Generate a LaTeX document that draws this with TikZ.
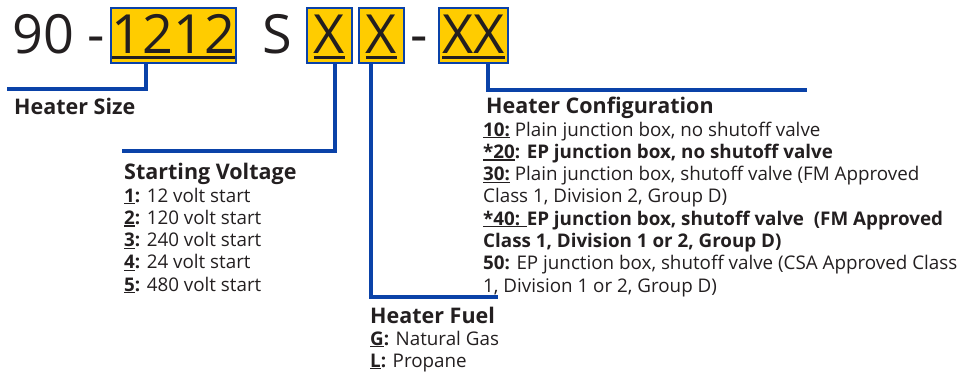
\documentclass[tikz,border=0pt]{standalone}
\usepackage{fontspec}
\setmainfont{Open Sans}
\usepackage{tikz}
\usetikzlibrary{positioning}
\definecolor{codeblue}{RGB}{10,66,168}
\definecolor{codeyellow}{RGB}{255,204,0}
\definecolor{ink}{RGB}{35,31,32}
\newcommand{\bigfont}{\fontsize{54}{60}\selectfont}
\newcommand{\headfont}{\fontsize{21.5}{24}\selectfont\bfseries}
\newcommand{\listfont}{\fontsize{18.8}{22}\selectfont}
\newcommand{\undr}[1]{\sbox0{#1}\rlap{\rule[-0.12em]{\wd0}{0.07em}}\usebox0}

\begin{document}
\begin{tikzpicture}[x=1pt,y=-1pt,
  codebox/.style={fill=codeyellow, draw=codeblue, line width=2pt, inner sep=0pt,
    text height=45pt, text depth=10pt, anchor=base, font=\bigfont, text=ink},
  plain/.style={anchor=base west, inner sep=0pt, font=\bigfont, text=ink},
  lead/.style={draw=codeblue, line width=4pt},
  head/.style={anchor=base west, inner sep=0pt, font=\headfont, text=ink},
  item/.style={anchor=base west, inner sep=0pt, font=\listfont, text=ink}]
  \useasboundingbox (0,0) rectangle (958,373);
  %code
  \node[plain] (pre) at (12,53) {90 -};
  \node[codebox, minimum width=125pt] (b1) at (173.5,53) {\undr{1212}};
  \node[plain] (s) at (262,53) {S};
  \node[codebox, minimum width=45pt] (b2) at (329.5,53) {\undr{X}};
  \node[codebox, minimum width=45pt] (b3) at (381.5,53) {\undr{X}};
  \node[plain] (dash) at (410,53) {-};
  \node[codebox, minimum width=69pt] (b4) at (473.5,53) {\undr{XX}};
  %leads
  \coordinate (szend) at (7,89);
  \coordinate (svend) at (122,151);
  \coordinate (hfend) at (498,297);
  \coordinate (hcend) at (807,90);
  \draw[lead] ([xshift=-27.5pt]b1.south) |- (szend);
  \draw[lead] ([xshift=5.5pt]b2.south) |- (svend);
  \draw[lead] ([xshift=-10.5pt]b3.south) |- (hfend);
  \draw[lead] ([xshift=14.5pt]b4.south) |- (hcend);
  %labels
  \node[head] (hs) at (14,114) {Heater Size};
  \node[head] (hv) at (124,179) {Starting Voltage};
  \node[head] (hf) at (370,323) {Heater Fuel};
  \node[head] (hc) at (486,113) {Heater Configuration};
  \foreach \t [count=\i from 0] in {{\textbf{\undr{1}:} 12 volt start},
      {\textbf{\undr{2}:} 120 volt start},{\textbf{\undr{3}:} 240 volt start},
      {\textbf{\undr{4}:} 24 volt start},{\textbf{\undr{5}:} 480 volt start}}
    \node[item] (sv\i) at (124,202+22.3*\i) {\t};
  \foreach \t [count=\i from 0] in {{\textbf{\undr{G}:} Natural Gas},
      {\textbf{\undr{L}:} Propane}}
    \node[item] (fu\i) at (370,345+22*\i) {\t};
  \foreach \t [count=\i from 0] in {
      {\textbf{\undr{10:}} Plain junction box, no shutoff valve},
      {\textbf{\undr{*20}: EP junction box, no shutoff valve}},
      {\textbf{\undr{30:}} Plain junction box, shutoff valve (FM Approved},
      {Class 1, Division 2, Group D)},
      {\textbf{\undr{*40: }EP junction box, shutoff valve \ (FM Approved}},
      {\textbf{Class 1, Division 1 or 2, Group D)}},
      {\textbf{50:} EP junction box, shutoff valve (CSA Approved Class},
      {1, Division 1 or 2, Group D)}}
    \node[item] (cf\i) at (483,136+22.3*\i) {\t};
\end{tikzpicture}
\end{document}
